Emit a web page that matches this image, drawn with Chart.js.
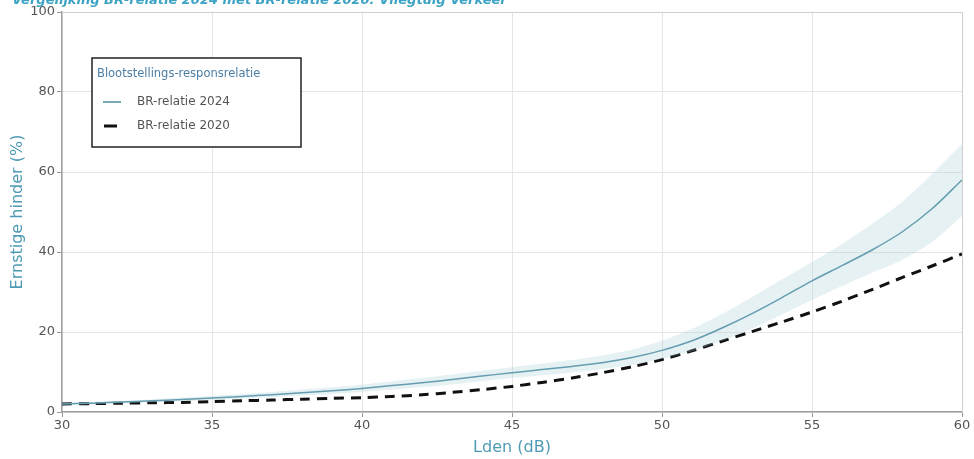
<!DOCTYPE html>
<html>
<head>
<meta charset="utf-8">
<script src="https://cdn.jsdelivr.net/npm/chart.js@4/dist/chart.umd.min.js"></script>
<style>
  html, body { margin: 0; padding: 0; background: #fff; }
  #wrap { position: relative; width: 974px; height: 459px; }
</style>
</head>
<body>
<div id="wrap"><canvas id="chart" width="974" height="459"></canvas></div>
<script>
/* Data */
const lden = [30,31,32,33,34,35,36,37,38,39,40,41,42,43,44,45,46,47,48,49,50,51,52,53,54,55,56,57,58,59,60];
const br2024 = [2.0,2.2,2.5,2.8,3.1,3.5,3.9,4.3,4.8,5.3,5.9,6.6,7.3,8.1,9.0,9.8,10.6,11.4,12.3,13.6,15.4,17.8,21.0,24.6,28.6,32.8,36.6,40.5,45.0,50.8,58.0];
const br2024Upper = [2.2,2.5,2.8,3.2,3.6,4.0,4.5,5.0,5.6,6.2,6.9,7.7,8.5,9.4,10.3,11.2,12.1,13.0,14.1,15.6,17.8,20.8,24.5,28.7,33.1,37.5,42.0,47.0,52.5,59.5,67.0];
const br2024Lower = [1.8,2.0,2.2,2.5,2.7,3.0,3.4,3.7,4.1,4.5,5.0,5.6,6.2,6.9,7.7,8.5,9.2,9.9,10.7,11.8,13.3,15.2,17.8,20.9,24.4,28.0,31.5,34.8,38.0,42.5,49.0];
const br2020 = [2.0,2.1,2.2,2.3,2.4,2.6,2.8,3.0,3.2,3.4,3.6,3.9,4.3,4.9,5.6,6.4,7.4,8.5,9.8,11.3,13.1,15.3,17.7,20.1,22.5,25.0,27.7,30.6,33.6,36.5,39.5];
const xTicks = [30,35,40,45,50,55,60];
const yTicks = [0,20,40,60,80,100];

const chartTitle = 'Vergelijking BR-relatie 2024 met BR-relatie 2020: Vliegtuig Verkeer';
const legendTitle = 'Blootstellings-responsrelatie';

const pts = (ys) => lden.map((x, i) => ({x: x, y: ys[i]}));

const TEAL = '#4d8ba1';
const AXIS_TEAL = '#4f9bb5';
const FONT = "'DejaVu Sans', Verdana, sans-serif";

/* title cut off at top, legend box inside plot, mirrored frame */
const extras = {
  id: 'extras',
  beforeDatasetsDraw(chart) {
    const {ctx, chartArea: a} = chart;
    ctx.save();
    ctx.strokeStyle = '#cfcfcf';
    ctx.lineWidth = 1;
    ctx.beginPath();
    ctx.moveTo(a.left, a.top + 0.5); ctx.lineTo(a.right + 0.5, a.top + 0.5); ctx.lineTo(a.right + 0.5, a.bottom);
    ctx.stroke();
    ctx.restore();
  },
  afterDraw(chart) {
    const {ctx, chartArea: a} = chart;
    ctx.save();
    // title (only lower part visible in the reference)
    ctx.font = "italic bold 13px " + FONT;
    ctx.fillStyle = '#3da3c4';
    ctx.textBaseline = 'alphabetic';
    ctx.textAlign = 'left';
    ctx.fillText(chartTitle, 12, 4);

    // legend
    const bx = a.left + 30, by = a.top + 46, bw = 209, bh = 89;
    ctx.fillStyle = '#fff';
    ctx.fillRect(bx, by, bw, bh);
    ctx.strokeStyle = '#222';
    ctx.lineWidth = 1.5;
    ctx.strokeRect(bx, by, bw, bh);
    ctx.font = "11.5px " + FONT;
    ctx.fillStyle = '#4a7ea6';
    ctx.textBaseline = 'middle';
    ctx.fillText(legendTitle, bx + 5, by + 16);
    const items = chart.data.datasets.filter(d => d.label);
    items.forEach((d, i) => {
      const y = by + 44 + i * 24;
      ctx.beginPath();
      ctx.strokeStyle = d.borderColor;
      if (d.borderDash && d.borderDash.length) {
        ctx.lineWidth = 3;
        ctx.moveTo(bx + 12, y); ctx.lineTo(bx + 25, y);
      } else {
        ctx.lineWidth = 1.5;
        ctx.moveTo(bx + 11, y); ctx.lineTo(bx + 29, y);
      }
      ctx.stroke();
      ctx.font = "12px " + FONT;
      ctx.fillStyle = '#555';
      ctx.fillText(d.label, bx + 45, y);
    });
    ctx.restore();
  }
};

new Chart(document.getElementById('chart'), {
  type: 'line',
  data: {
    datasets: [
      { data: pts(br2024Lower), borderWidth: 0, pointRadius: 0, fill: false, tension: 0.3, borderColor: 'rgba(0,0,0,0)' },
      { data: pts(br2024Upper), borderWidth: 0, pointRadius: 0, fill: '-1', tension: 0.3,
        borderColor: 'rgba(0,0,0,0)', backgroundColor: 'rgba(165,203,214,0.28)' },
      { label: 'BR-relatie 2024', data: pts(br2024), borderColor: TEAL, borderWidth: 1.5, pointRadius: 0, fill: false, tension: 0.3 },
      { label: 'BR-relatie 2020', data: pts(br2020), borderColor: '#111', borderWidth: 3, borderDash: [10, 7], pointRadius: 0, fill: false, tension: 0.3 }
    ]
  },
  options: {
    responsive: false,
    animation: false,
    layout: { padding: { top: 12, right: 12, left: 0, bottom: 0 } },
    plugins: { legend: { display: false }, tooltip: { enabled: false } },
    scales: {
      x: {
        type: 'linear', min: 30, max: 60,
        afterBuildTicks: (s) => { s.ticks = xTicks.map(v => ({value: v})); },
        afterFit: (s) => { s.height = 47; },
        grid: { color: '#e6e6e6', tickColor: '#999', tickLength: 5 },
        border: { color: '#a0a0a0', width: 1.5 },
        ticks: { color: '#555', padding: 1, font: { family: FONT, size: 13 } },
        title: { display: true, text: 'Lden (dB)', color: AXIS_TEAL, font: { family: FONT, size: 16 }, padding: { top: 0, bottom: 2 } }
      },
      y: {
        min: 0, max: 100,
        afterBuildTicks: (s) => { s.ticks = yTicks.map(v => ({value: v})); },
        afterFit: (s) => { s.width = 62; },
        grid: { color: '#e6e6e6', tickColor: '#999', tickLength: 5 },
        border: { color: '#a0a0a0', width: 1.5 },
        ticks: { color: '#555', padding: 2, font: { family: FONT, size: 13 } },
        title: { display: true, text: 'Ernstige hinder (%)', color: AXIS_TEAL, font: { family: FONT, size: 16 }, padding: { top: 8, bottom: 0 } }
      }
    }
  },
  plugins: [extras]
});
</script>
</body>
</html>
